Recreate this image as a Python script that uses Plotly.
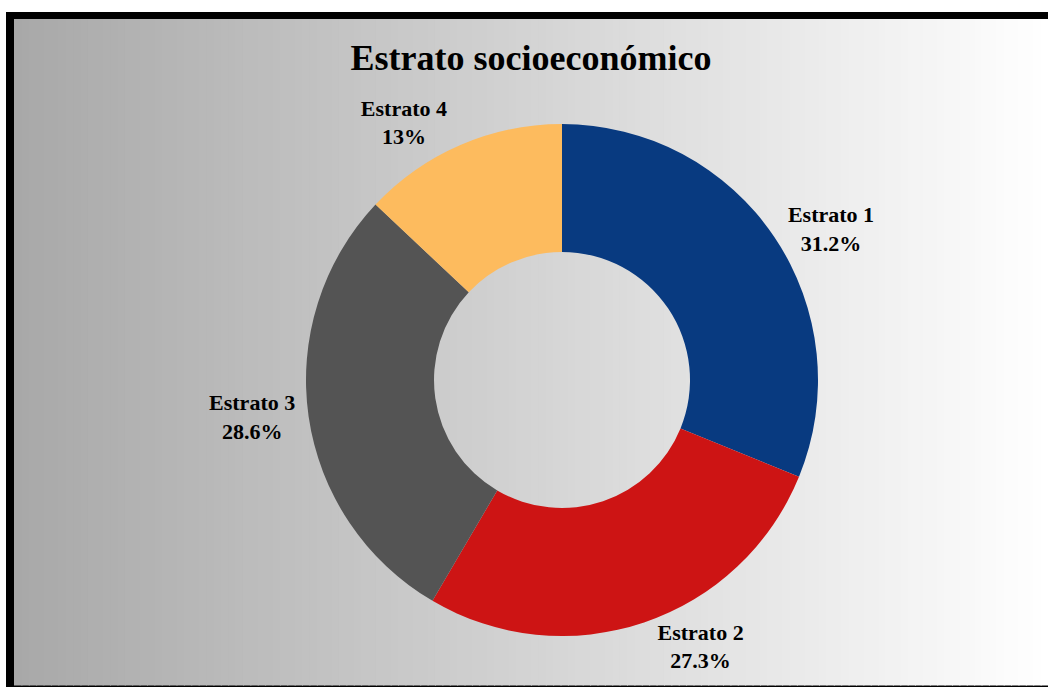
import plotly.graph_objects as go

labels = ['Estrato 1', 'Estrato 2', 'Estrato 3', 'Estrato 4']
values = [31.2, 27.3, 28.6, 13]
colors = ['#083A80', '#CD1414', '#545454', '#FDBB5E']

W, H = 1048, 687
serif = 'Liberation Serif, Times New Roman, serif'

fig = go.Figure()

# donut centred at (562, 380) px
cx, cy, R = 562, 380, 256
fig.add_trace(go.Pie(
    labels=labels,
    values=values,
    hole=0.5,
    sort=False,
    direction='clockwise',
    rotation=0,
    marker=dict(colors=colors, line=dict(width=0)),
    texttemplate='<b>%{label}<br>%{value}%</b>',
    textposition='outside',
    outsidetextfont=dict(family=serif, size=22, color='black'),
    showlegend=False,
    domain=dict(x=[(cx - R) / W, (cx + R) / W],
                y=[(H - cy - R) / H, (H - cy + R) / H]),
))

# black frame on the left and top, then a grey-to-white gradient
shapes = [dict(type='rect', xref='paper', yref='paper', layer='below',
               x0=6 / W, x1=1, y0=0, y1=1 - 12 / H,
               fillcolor='black', line=dict(width=0))]
n = 140
x_start, x_end = 14, W
for i in range(n):
    a = x_start + (x_end - x_start) * i / n
    b = x_start + (x_end - x_start) * (i + 1) / n
    g = int(round(168 + (255 - 168) * (i + 0.5) / n))
    shapes.append(dict(type='rect', xref='paper', yref='paper', layer='below',
                       x0=a / W, x1=min(b + 1, W) / W,
                       y0=1.5 / H, y1=1 - 19 / H,
                       fillcolor=f'rgb({g},{g},{g})', line=dict(width=0)))

fig.update_layout(
    width=W,
    height=H,
    margin=dict(l=0, r=0, t=0, b=0),
    paper_bgcolor='white',
    plot_bgcolor='rgba(0,0,0,0)',
    shapes=shapes,
    title=dict(text='<b>Estrato socioeconómico</b>',
               x=531 / W, y=1 - 57 / H, xanchor='center', yanchor='middle',
               font=dict(family=serif, size=36, color='black')),
)

# drop the default page margin so the figure fills the window exactly
fig.write_html('out.html', config={'displayModeBar': False}, post_script=(
    "document.body.style.margin='0';"
    "document.body.style.overflow='hidden';"
))
